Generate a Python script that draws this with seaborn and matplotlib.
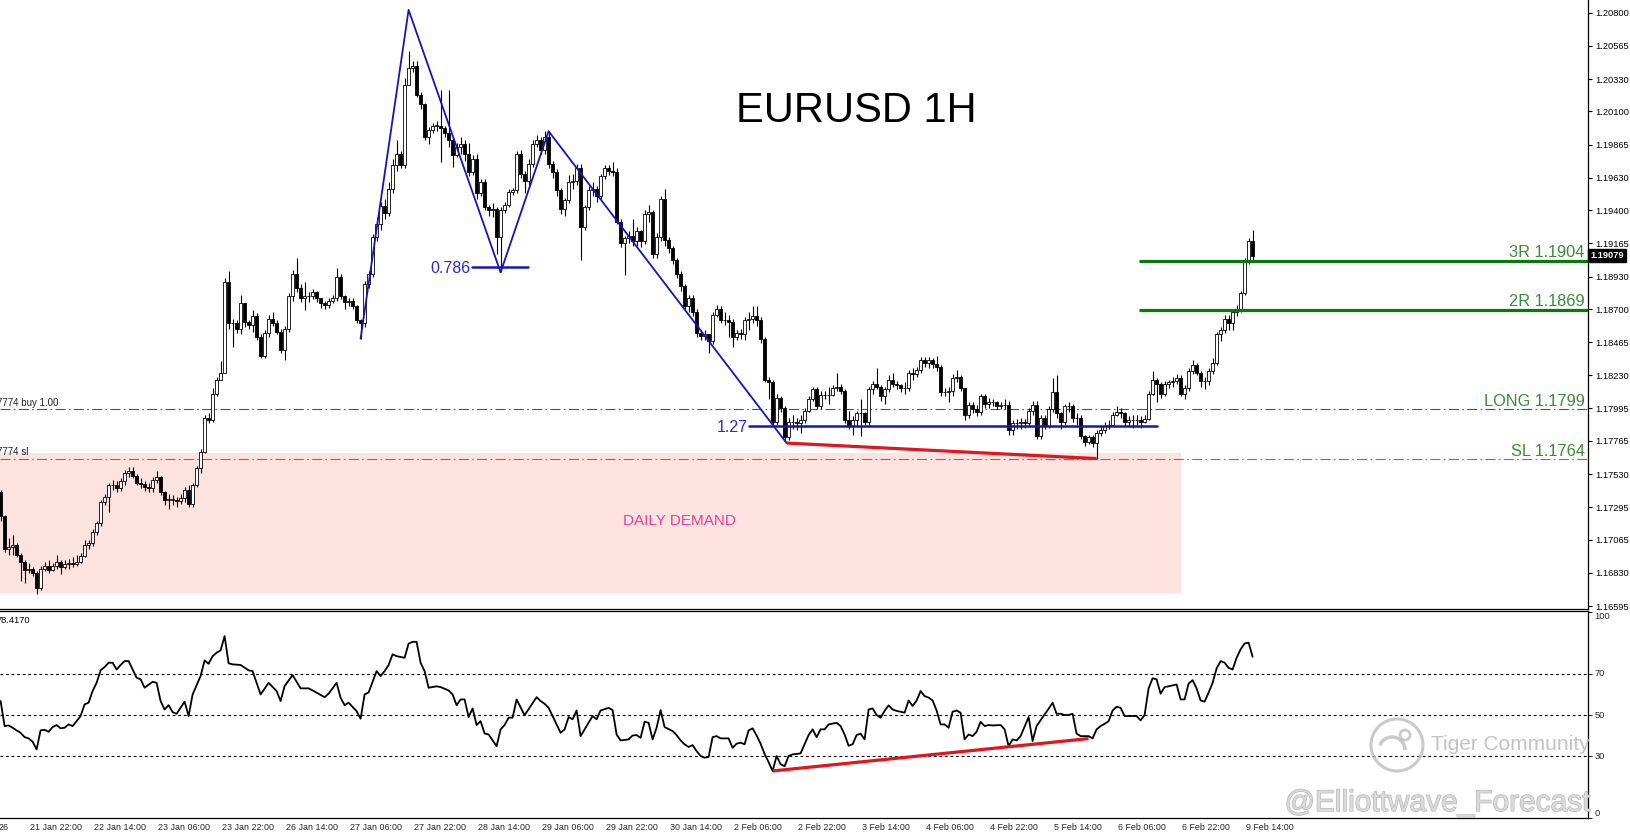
"""EURUSD 1H chart with harmonic pattern, levels and RSI"""

import numpy as np
import matplotlib
matplotlib.use("Agg")
import matplotlib.pyplot as plt
import matplotlib.patheffects as pe
import matplotlib.transforms as mtransforms
from matplotlib.patches import Rectangle, Circle, Arc
import seaborn as sns

# ---------------- data ----------------
first_open = 1.1740

closes = [
    1.1723, 1.1700, 1.1701, 1.1703, 1.1696, 1.1691, 1.1685, 1.1686, 1.1683, 1.1672,
    1.1686, 1.1688, 1.1685, 1.1688, 1.1691, 1.1687, 1.1689, 1.1690, 1.1689, 1.1691,
    1.1695, 1.1703, 1.1704, 1.1712, 1.1718, 1.1733, 1.1737, 1.1745, 1.1745, 1.1743,
    1.1748, 1.1754, 1.1755, 1.1752, 1.1747, 1.1746, 1.1744, 1.1743, 1.1749, 1.1751,
    1.1740, 1.1735, 1.1735, 1.1735, 1.1734, 1.1736, 1.1742, 1.1732, 1.1745, 1.1757,
    1.1769, 1.1793, 1.1791, 1.1810, 1.1820, 1.1825, 1.1889, 1.1860, 1.1860, 1.1856,
    1.1874, 1.1861, 1.1859, 1.1865, 1.1850, 1.1837, 1.1853, 1.1863, 1.1860, 1.1854,
    1.1841, 1.1856, 1.1879, 1.1895, 1.1885, 1.1878, 1.1879, 1.1879, 1.1882, 1.1878,
    1.1874, 1.1873, 1.1876, 1.1878, 1.1893, 1.1879, 1.1875, 1.1876, 1.1872, 1.1862,
    1.1860, 1.1888, 1.1895, 1.1921, 1.1930, 1.1943, 1.1938, 1.1955, 1.1972, 1.1980,
    1.1972, 1.2029, 1.2041, 1.2042, 1.2022, 1.2015, 1.1992, 1.1997, 1.2000, 1.2000,
    1.1998, 1.1995, 1.1990, 1.1979, 1.1985, 1.1987, 1.1980, 1.1967, 1.1976, 1.1952,
    1.1960, 1.1942, 1.1940, 1.1941, 1.1921, 1.1940, 1.1944, 1.1953, 1.1954, 1.1980,
    1.1966, 1.1961, 1.1973, 1.1987, 1.1990, 1.1983, 1.1992, 1.1973, 1.1967, 1.1954,
    1.1941, 1.1947, 1.1960, 1.1961, 1.1970, 1.1928, 1.1942, 1.1954, 1.1955, 1.1950,
    1.1964, 1.1970, 1.1968, 1.1967, 1.1932, 1.1917, 1.1920, 1.1922, 1.1918, 1.1925,
    1.1918, 1.1937, 1.1939, 1.1909, 1.1921, 1.1948, 1.1919, 1.1913, 1.1905, 1.1895,
    1.1886, 1.1872, 1.1878, 1.1868, 1.1853, 1.1851, 1.1852, 1.1847, 1.1866, 1.1870,
    1.1862, 1.1862, 1.1861, 1.1850, 1.1853, 1.1852, 1.1862, 1.1863, 1.1865, 1.1862,
    1.1849, 1.1820, 1.1818, 1.1790, 1.1807, 1.1800, 1.1779, 1.1790, 1.1790, 1.1789,
    1.1791, 1.1798, 1.1806, 1.1813, 1.1801, 1.1809, 1.1809, 1.1809, 1.1814, 1.1815,
    1.1812, 1.1791, 1.1787, 1.1791, 1.1796, 1.1796, 1.1790, 1.1813, 1.1817, 1.1815,
    1.1808, 1.1813, 1.1820, 1.1817, 1.1816, 1.1814, 1.1814, 1.1825, 1.1824, 1.1827,
    1.1834, 1.1832, 1.1834, 1.1831, 1.1829, 1.1811, 1.1811, 1.1812, 1.1821, 1.1822,
    1.1814, 1.1795, 1.1802, 1.1799, 1.1797, 1.1808, 1.1803, 1.1804, 1.1804, 1.1801,
    1.1802, 1.1802, 1.1784, 1.1789, 1.1789, 1.1790, 1.1789, 1.1798, 1.1802, 1.1780,
    1.1793, 1.1787, 1.1799, 1.1811, 1.1796, 1.1790, 1.1801, 1.1801, 1.1793, 1.1793,
    1.1780, 1.1776, 1.1779, 1.1775, 1.1782, 1.1784, 1.1787, 1.1788, 1.1795, 1.1797,
    1.1796, 1.1790, 1.1791, 1.1791, 1.1791, 1.1790, 1.1792, 1.1810, 1.1820, 1.1817,
    1.1810, 1.1817, 1.1818, 1.1819, 1.1821, 1.1810, 1.1814, 1.1826, 1.1830, 1.1825,
    1.1819, 1.1819, 1.1826, 1.1832, 1.1852, 1.1855, 1.1863, 1.1860, 1.1868, 1.1870,
    1.1881, 1.1904, 1.1918, 1.19079,
]

highs = [
    1.1742, 1.1724, 1.1708, 1.1710, 1.1704, 1.1697, 1.1692, 1.1690, 1.1687, 1.1684,
    1.1688, 1.1691, 1.1692, 1.1690, 1.1696, 1.1692, 1.1692, 1.1693, 1.1694, 1.1696,
    1.1697, 1.1706, 1.1706, 1.1714, 1.1720, 1.1735, 1.1739, 1.1747, 1.1749, 1.1748,
    1.1750, 1.1756, 1.1758, 1.1758, 1.1753, 1.1750, 1.1748, 1.1747, 1.1751, 1.1755,
    1.1752, 1.1741, 1.1739, 1.1738, 1.1737, 1.1739, 1.1744, 1.1745, 1.1747, 1.1759,
    1.1771, 1.1795, 1.1796, 1.1814, 1.1822, 1.1833, 1.1892, 1.1897, 1.1863, 1.1862,
    1.1880, 1.1872, 1.1862, 1.1869, 1.1867, 1.1852, 1.1855, 1.1866, 1.1868, 1.1862,
    1.1856, 1.1858, 1.1881, 1.1898, 1.1906, 1.1888, 1.1889, 1.1882, 1.1884, 1.1883,
    1.1878, 1.1876, 1.1878, 1.1880, 1.1899, 1.1895, 1.1880, 1.1878, 1.1878, 1.1873,
    1.1863, 1.1890, 1.1897, 1.1923, 1.1935, 1.1946, 1.1948, 1.1960, 1.1976, 1.1990,
    1.1982, 1.2034, 1.2053, 1.2046, 1.2046, 1.2024, 1.2016, 1.1999, 1.2002, 1.2003,
    1.2025, 1.2000, 1.2025, 1.1992, 1.1988, 1.1992, 1.1990, 1.1988, 1.1979, 1.1980,
    1.1962, 1.1962, 1.1944, 1.1945, 1.1942, 1.1942, 1.1946, 1.1955, 1.1956, 1.1982,
    1.1983, 1.1968, 1.1976, 1.1990, 1.1993, 1.1992, 1.1996, 1.1996, 1.1975, 1.1969,
    1.1956, 1.1949, 1.1965, 1.1966, 1.1973, 1.1973, 1.1944, 1.1957, 1.1960, 1.1957,
    1.1966, 1.1972, 1.1972, 1.1974, 1.1970, 1.1934, 1.1922, 1.1925, 1.1934, 1.1928,
    1.1926, 1.1940, 1.1944, 1.1940, 1.1924, 1.1950, 1.1955, 1.1921, 1.1915, 1.1906,
    1.1897, 1.1888, 1.1880, 1.1880, 1.1870, 1.1855, 1.1855, 1.1852, 1.1868, 1.1873,
    1.1872, 1.1868, 1.1866, 1.1863, 1.1855, 1.1856, 1.1864, 1.1868, 1.1872, 1.1872,
    1.1864, 1.1850, 1.1822, 1.1820, 1.1810, 1.1808, 1.1801, 1.1793, 1.1795, 1.1793,
    1.1795, 1.1800, 1.1808, 1.1815, 1.1815, 1.1812, 1.1812, 1.1815, 1.1816, 1.1825,
    1.1817, 1.1813, 1.1798, 1.1794, 1.1798, 1.1806, 1.1797, 1.1815, 1.1819, 1.1828,
    1.1816, 1.1815, 1.1823, 1.1825, 1.1819, 1.1817, 1.1818, 1.1827, 1.1828, 1.1829,
    1.1836, 1.1836, 1.1836, 1.1835, 1.1837, 1.1830, 1.1814, 1.1815, 1.1824, 1.1827,
    1.1823, 1.1814, 1.1804, 1.1804, 1.1802, 1.1810, 1.1810, 1.1807, 1.1806, 1.1805,
    1.1804, 1.1806, 1.1805, 1.1791, 1.1792, 1.1793, 1.1792, 1.1800, 1.1805, 1.1805,
    1.1795, 1.1795, 1.1801, 1.1821, 1.1823, 1.1797, 1.1803, 1.1804, 1.1803, 1.1796,
    1.1795, 1.1781, 1.1781, 1.1781, 1.1784, 1.1787, 1.1790, 1.1791, 1.1797, 1.1801,
    1.1800, 1.1797, 1.1794, 1.1795, 1.1795, 1.1794, 1.1795, 1.1812, 1.1826, 1.1821,
    1.1818, 1.1819, 1.1820, 1.1822, 1.1824, 1.1823, 1.1816, 1.1828, 1.1834, 1.1832,
    1.1826, 1.1822, 1.1828, 1.1835, 1.1854, 1.1857, 1.1866, 1.1866, 1.1870, 1.1873,
    1.1883, 1.1906, 1.1920, 1.1926,
]

lows = [
    1.1720, 1.1698, 1.1696, 1.1696, 1.1694, 1.1677, 1.1676, 1.1683, 1.1681, 1.1668,
    1.1671, 1.1684, 1.1683, 1.1684, 1.1686, 1.1682, 1.1686, 1.1686, 1.1687, 1.1688,
    1.1690, 1.1694, 1.1700, 1.1702, 1.1710, 1.1716, 1.1731, 1.1726, 1.1742, 1.1740,
    1.1741, 1.1745, 1.1751, 1.1750, 1.1745, 1.1743, 1.1741, 1.1740, 1.1740, 1.1747,
    1.1738, 1.1731, 1.1728, 1.1731, 1.1730, 1.1732, 1.1733, 1.1730, 1.1730, 1.1744,
    1.1754, 1.1768, 1.1789, 1.1790, 1.1808, 1.1820, 1.1849, 1.1856, 1.1843, 1.1853,
    1.1852, 1.1857, 1.1856, 1.1854, 1.1848, 1.1835, 1.1835, 1.1850, 1.1858, 1.1852,
    1.1839, 1.1834, 1.1854, 1.1876, 1.1882, 1.1875, 1.1869, 1.1875, 1.1877, 1.1875,
    1.1871, 1.1870, 1.1871, 1.1874, 1.1876, 1.1877, 1.1870, 1.1872, 1.1870, 1.1860,
    1.1849, 1.1857, 1.1885, 1.1893, 1.1918, 1.1926, 1.1934, 1.1936, 1.1952, 1.1968,
    1.1970, 1.1970, 1.2030, 1.2038, 1.2020, 1.2012, 1.1990, 1.1987, 1.1995, 1.1996,
    1.1974, 1.1992, 1.1985, 1.1971, 1.1978, 1.1980, 1.1975, 1.1964, 1.1965, 1.1948,
    1.1950, 1.1940, 1.1936, 1.1935, 1.1909, 1.1896, 1.1938, 1.1942, 1.1951, 1.1952,
    1.1963, 1.1952, 1.1958, 1.1971, 1.1985, 1.1980, 1.1980, 1.1970, 1.1963, 1.1950,
    1.1937, 1.1936, 1.1945, 1.1955, 1.1958, 1.1905, 1.1926, 1.1940, 1.1950, 1.1946,
    1.1948, 1.1962, 1.1965, 1.1964, 1.1930, 1.1914, 1.1894, 1.1917, 1.1915, 1.1915,
    1.1914, 1.1916, 1.1932, 1.1906, 1.1906, 1.1918, 1.1915, 1.1910, 1.1902, 1.1892,
    1.1883, 1.1870, 1.1868, 1.1865, 1.1850, 1.1848, 1.1848, 1.1839, 1.1845, 1.1864,
    1.1860, 1.1859, 1.1850, 1.1843, 1.1848, 1.1849, 1.1848, 1.1855, 1.1860, 1.1858,
    1.1846, 1.1818, 1.1806, 1.1788, 1.1788, 1.1797, 1.1776, 1.1777, 1.1785, 1.1784,
    1.1782, 1.1789, 1.1797, 1.1805, 1.1799, 1.1799, 1.1806, 1.1803, 1.1808, 1.1812,
    1.1810, 1.1789, 1.1785, 1.1781, 1.1787, 1.1780, 1.1788, 1.1787, 1.1810, 1.1813,
    1.1805, 1.1803, 1.1811, 1.1815, 1.1813, 1.1811, 1.1810, 1.1812, 1.1820, 1.1822,
    1.1825, 1.1829, 1.1828, 1.1828, 1.1826, 1.1808, 1.1808, 1.1804, 1.1808, 1.1818,
    1.1812, 1.1791, 1.1793, 1.1796, 1.1794, 1.1795, 1.1800, 1.1800, 1.1801, 1.1799,
    1.1799, 1.1799, 1.1781, 1.1781, 1.1785, 1.1785, 1.1786, 1.1787, 1.1795, 1.1778,
    1.1778, 1.1785, 1.1786, 1.1797, 1.1793, 1.1785, 1.1788, 1.1797, 1.1790, 1.1788,
    1.1778, 1.1773, 1.1774, 1.1772, 1.1764, 1.1780, 1.1782, 1.1785, 1.1787, 1.1794,
    1.1793, 1.1787, 1.1787, 1.1786, 1.1788, 1.1786, 1.1789, 1.1791, 1.1809, 1.1804,
    1.1807, 1.1808, 1.1814, 1.1815, 1.1817, 1.1808, 1.1806, 1.1812, 1.1824, 1.1823,
    1.1815, 1.1813, 1.1816, 1.1824, 1.1830, 1.1847, 1.1853, 1.1855, 1.1855, 1.1865,
    1.1868, 1.1880, 1.1902, 1.1903,
]

# RSI(14) as (bar, value)
rsi_points = [
    (0, 56.8), (1, 44.6), (2, 44.9), (3, 43.8), (4, 42.5), (5, 41.3), (6, 39.2), (7, 38.6), (8, 37.0), (9, 33.2),
    (10, 42.5), (11, 42.8), (12, 41.8), (13, 44.1), (14, 45.1), (15, 43.5), (16, 43.8), (17, 45.4), (18, 44.6), (19, 47.0),
    (20, 49.5), (21, 55.2), (22, 56.0), (23, 61.7), (24, 65.7), (25, 71.8), (26, 73.4), (27, 75.5), (28, 75.5), (29, 72.2),
    (30, 74.4), (31, 76.3), (32, 76.3), (34, 68.2), (35, 67.4), (36, 63.3), (38, 66.2), (39, 65.7), (40, 56.8), (41, 52.7),
    (42, 54.8), (43, 51.4), (44, 50.6), (46, 56.5), (47, 49.5), (48, 60.0), (50, 69.0), (51, 76.6), (52, 75.0), (53, 78.7),
    (54, 80.4), (55, 81.5), (56, 88.5), (57, 75.2), (58, 74.7), (60, 74.4), (62, 71.8), (63, 71.4), (65, 60.0), (67, 65.7),
    (69, 61.7), (70, 56.8), (71, 64.1), (73, 69.5), (75, 63.0), (77, 63.0), (78, 62.0), (81, 58.7), (82, 60.4), (84, 65.7),
    (85, 58.4), (86, 54.8), (87, 56.0), (89, 51.9), (90, 48.2), (91, 60.0), (92, 61.0), (94, 71.4), (95, 69.0), (96, 71.4),
    (97, 74.4), (98, 79.6), (99, 78.7), (101, 77.9), (102, 84.8), (103, 85.7), (104, 85.7), (105, 75.5), (106, 71.4), (107, 63.3),
    (109, 64.0), (110, 63.6), (112, 62.0), (113, 60.0), (114, 54.8), (115, 57.6), (116, 57.6), (117, 49.0), (118, 53.2), (119, 45.1),
    (120, 47.0), (121, 41.0), (122, 40.5), (124, 34.8), (125, 43.0), (126, 45.1), (127, 48.7), (128, 48.7), (129, 57.6), (131, 49.9),
    (134, 58.7), (135, 56.8), (136, 55.5), (137, 53.5), (138, 49.5), (140, 41.3), (141, 43.0), (142, 49.0), (143, 47.9), (144, 52.2),
    (145, 39.7), (147, 46.2), (148, 49.5), (149, 47.9), (150, 52.2), (152, 53.5), (153, 52.4), (154, 40.5), (155, 37.6), (157, 38.1),
    (158, 40.0), (159, 40.2), (160, 38.9), (161, 46.7), (162, 46.2), (163, 38.1), (164, 43.8), (165, 52.4), (166, 44.1), (168, 42.2),
    (169, 40.2), (170, 37.6), (171, 35.7), (172, 34.4), (173, 35.3), (174, 32.4), (175, 30.0), (176, 29.2), (177, 29.5), (178, 39.2),
    (179, 39.7), (180, 38.6), (182, 38.6), (183, 34.0), (184, 36.0), (185, 36.5), (186, 35.7), (187, 42.5), (188, 43.5), (189, 40.0),
    (190, 36.0), (191, 31.0), (192, 27.0), (193, 22.7), (194, 30.0), (195, 26.0), (196, 25.0), (197, 30.0), (198, 30.8), (199, 31.0),
    (200, 31.3), (201, 35.7), (202, 40.2), (203, 43.0), (204, 39.2), (205, 43.0), (206, 43.0), (207, 45.4), (209, 46.2), (210, 44.6),
    (211, 40.5), (212, 35.0), (213, 35.7), (214, 40.2), (215, 40.9), (216, 38.1), (217, 52.7), (218, 53.2), (219, 50.0), (220, 48.7),
    (221, 52.0), (222, 54.7), (223, 52.7), (224, 52.0), (225, 51.6), (226, 51.1), (227, 57.1), (228, 54.4), (229, 57.0), (230, 61.7),
    (231, 59.2), (232, 58.5), (233, 57.1), (234, 52.2), (235, 45.4), (236, 45.4), (237, 43.8), (238, 51.6), (239, 52.2), (240, 51.1),
    (241, 38.1), (242, 40.5), (243, 39.7), (244, 41.8), (245, 46.7), (246, 44.6), (247, 45.1), (248, 44.9), (250, 45.1), (251, 43.0),
    (252, 34.8), (253, 38.1), (254, 37.6), (255, 39.7), (257, 49.0), (258, 37.3), (259, 44.6), (261, 50.3), (262, 53.0), (263, 56.0),
    (264, 50.6), (265, 50.6), (266, 50.0), (267, 50.0), (268, 50.6), (269, 40.9), (270, 39.7), (271, 39.7), (272, 39.7), (273, 38.6),
    (274, 43.0), (275, 44.6), (276, 45.7), (277, 47.0), (278, 52.2), (279, 54.0), (280, 53.5), (281, 49.5), (283, 49.5), (284, 49.5),
    (285, 47.4), (286, 50.0), (287, 63.0), (288, 67.9), (289, 67.4), (290, 60.4), (291, 63.6), (292, 64.0), (294, 64.9), (295, 57.6),
    (296, 57.6), (297, 65.3), (298, 67.0), (299, 63.0), (300, 57.1), (301, 56.5), (302, 60.9), (303, 65.7), (304, 72.7), (305, 76.3),
    (306, 75.5), (307, 73.0), (308, 72.2), (309, 77.9), (310, 82.0), (311, 84.9), (312, 85.3), (313, 78.4),
]
rsi_label = "78.4170"
rsi_levels = [70, 50, 30]
rsi_axis_labels = [100, 70, 50, 30, 0]

price_ticks = [1.16595, 1.16830, 1.17065, 1.17295, 1.17530, 1.17765, 1.17995, 1.18230,
               1.18465, 1.18700, 1.18930, 1.19165, 1.19400, 1.19630, 1.19865, 1.20100,
               1.20330, 1.20565, 1.20800]
last_price = 1.19079

time_tick_bars = [6, 22, 38, 54, 70, 86, 102, 118, 134, 150, 166, 182, 198, 214,
                  230, 246, 262, 278, 294, 310]
time_labels = ["21 Jan 22:00", "22 Jan 14:00", "23 Jan 06:00", "23 Jan 22:00",
               "26 Jan 14:00", "27 Jan 06:00", "27 Jan 22:00", "28 Jan 14:00",
               "29 Jan 06:00", "29 Jan 22:00", "30 Jan 14:00", "2 Feb 06:00",
               "2 Feb 22:00", "3 Feb 14:00", "4 Feb 06:00", "4 Feb 22:00",
               "5 Feb 14:00", "6 Feb 06:00", "6 Feb 22:00", "9 Feb 14:00"]

# harmonic pattern X-A-B-C-D
pattern_bars = [90, 102, 125, 137, 196.5]
pattern_prices = [1.1849, 1.2082, 1.1896, 1.1996, 1.1775]
fib_786 = [117.8, 131.9, 1.1900]
fib_127 = [187, 289, 1.1787]

# divergence lines
price_div_bars = [196.5, 274]
price_div_prices = [1.1775, 1.1764]
rsi_div_bars = [193, 272]
rsi_div_vals = [22.7, 38.5]

# trade levels
target_3r = 1.1904
target_2r = 1.1869
target_start_bar = 284.7
long_price = 1.1799
sl_price = 1.1764

demand_zone = [295, 1.1669, 1.1768]   # right end bar, low, high

# ---------------- figure ----------------
sns.set_theme(style="white")
plt.rcParams["font.family"] = ["Liberation Sans", "DejaVu Sans"]

W, H = 1631, 836
fig = plt.figure(figsize=(W / 100, H / 100), dpi=100)
fig.patch.set_facecolor("white")

xlim = (-0.15, 396.85)
ax = fig.add_axes([0, 227 / H, 1588 / W, 609 / H])
ax2 = fig.add_axes([0, 18 / H, 1588 / W, 207 / H])
ax.set_xlim(*xlim)
ax2.set_xlim(*xlim)
ax.set_ylim(1.16574, 1.20890)
ax2.set_ylim(-0.24, 100.73)

for a in (ax, ax2):
    a.set_facecolor("white")
    for s in a.spines.values():
        s.set_color("black")
        s.set_linewidth(0.9)
    a.spines["left"].set_visible(False)
ax.spines["top"].set_visible(False)

# candles
closes_a = np.array(closes)
opens_a = np.r_[first_open, closes_a[:-1]]
highs_a = np.maximum(np.array(highs), np.maximum(opens_a, closes_a))
lows_a = np.minimum(np.array(lows), np.minimum(opens_a, closes_a))
xb = np.arange(len(closes_a))
up = closes_a >= opens_a

ax.vlines(xb, lows_a, highs_a, color="black", lw=0.8, zorder=3)
body_h = np.maximum(np.abs(closes_a - opens_a), 0.00001)
ax.bar(xb, body_h, bottom=np.minimum(opens_a, closes_a), width=0.66,
       color=np.where(up, "white", "black"), edgecolor="black",
       linewidth=0.6, zorder=4)

# demand zone
ax.add_patch(Rectangle((xlim[0] - 1, demand_zone[1]), demand_zone[0] - xlim[0] + 1,
                       demand_zone[2] - demand_zone[1], facecolor="#fde3e0",
                       edgecolor="none", zorder=1))
ax.text(169.6, 1.17169, "DAILY DEMAND", color="#e6409a", fontsize=11,
        ha="center", va="baseline", zorder=6)

# trade lines
dashdot = (0, (9, 3, 1.5, 3))
ax.axhline(long_price, color="#2b6f2b", lw=0.8, ls=dashdot, zorder=2)
ax.axhline(sl_price, color="#d9502e", lw=0.8, ls=dashdot, zorder=2)
ax.plot([target_start_bar, xlim[1]], [target_3r, target_3r], color="#0b780b", lw=2.3, zorder=5,
        solid_capstyle="butt")
ax.plot([target_start_bar, xlim[1]], [target_2r, target_2r], color="#0b780b", lw=2.3, zorder=5,
        solid_capstyle="butt")

lab_kw = dict(color="#3a8c3a", fontsize=11.8, ha="right", va="baseline", zorder=7)
ax.text(396.0, target_3r + 0.0003, "3R 1.1904", **lab_kw)
ax.text(396.0, target_2r + 0.0003, "2R 1.1869", **lab_kw)
ax.text(396.0, long_price + 0.0002, "LONG 1.1799", **lab_kw)
ax.text(396.0, sl_price + 0.0002, "SL 1.1764", **lab_kw)

small = dict(fontsize=7, color="#222222", ha="left", va="baseline", clip_on=True)
ax.text(-0.8, long_price + 0.00022, "7774 buy 1.00", **small)
ax.text(-0.8, sl_price + 0.00022, "7774 sl", **small)

# pattern
blue = "#1515b8"
ax.plot(pattern_bars, pattern_prices, color=blue, lw=1.3, zorder=6)
ax.plot(fib_786[:2], [fib_786[2]] * 2, color=blue, lw=1.8, zorder=6)
ax.plot(fib_127[:2], [fib_127[2]] * 2, color=blue, lw=1.8, zorder=6)
ax.text(fib_786[0] - 0.2, fib_786[2], "0.786", color="#2a2ad0", fontsize=11.5,
        ha="right", va="center_baseline", zorder=7)
ax.text(fib_127[0] - 0.2, fib_127[2], "1.27", color="#2a2ad0", fontsize=11.5,
        ha="right", va="center_baseline", zorder=7)

ax.plot(price_div_bars, price_div_prices, color="#e3141c", lw=2.3, zorder=6,
        solid_capstyle="butt")

# title
ax.text(213.9, 1.20025, "EURUSD 1H", fontsize=30, ha="center", va="baseline",
        color="black", zorder=7)

# price axis
ax.set_xticks([])
ax.yaxis.tick_right()
ax.set_yticks(price_ticks)
ax.set_yticklabels([f"{p:.5f}" for p in price_ticks])
ax.tick_params(axis="y", direction="out", length=3, width=0.8, pad=2,
               labelsize=6.7, colors="black")
tr = mtransforms.blended_transform_factory(ax.transAxes, ax.transData)
ax.text(1.0015, last_price, f"{last_price:.5f}", transform=tr, ha="left",
        va="center", fontsize=6.7, color="white", fontweight="bold", zorder=10,
        bbox=dict(boxstyle="square,pad=0.22", fc="black", ec="black"), clip_on=False)

# RSI panel
rsi_x = [p[0] for p in rsi_points]
rsi_y = [p[1] for p in rsi_points]
sns.lineplot(x=rsi_x, y=rsi_y, ax=ax2, color="black", linewidth=1.3,
             estimator=None, sort=False, legend=False)
for lvl in rsi_levels:
    ax2.axhline(lvl, color="black", lw=0.8, ls=(0, (2.5, 2.5)), zorder=1)
ax2.plot(rsi_div_bars, rsi_div_vals, color="#e3141c", lw=2.3, zorder=5,
         solid_capstyle="butt")
ax2.text(-0.9, 95.9, rsi_label, fontsize=6.7, ha="left", va="center",
         color="black", clip_on=True)

ax2.set_yticks(rsi_axis_labels)
ax2.set_yticklabels([])
ax2.yaxis.tick_right()
ax2.tick_params(axis="y", direction="out", length=3, width=0.8)
tr2 = mtransforms.blended_transform_factory(ax2.transAxes, ax2.transData)
for v in rsi_axis_labels:
    va = "top" if v == 100 else ("bottom" if v == 0 else "center")
    ax2.text(1.004, v, str(v), transform=tr2, ha="left", va=va, fontsize=6.7,
             clip_on=False)

ax2.set_xticks(time_tick_bars)
ax2.set_xticklabels([])
ax2.tick_params(axis="x", direction="out", length=3, width=0.8)
trx = mtransforms.blended_transform_factory(ax2.transData, ax2.transAxes)
for b, lab in zip(time_tick_bars, time_labels):
    ax2.text(b + 1.3, -0.022, lab, transform=trx, ha="left", va="top",
             fontsize=6.4, clip_on=False)
ax2.text(1.9, -0.022, "26", transform=trx, ha="right", va="top", fontsize=6.4,
         clip_on=False)
ax2.set_xlabel("")
ax2.set_ylabel("")

# watermarks (pixel overlay)
ov = fig.add_axes([0, 0, 1, 1])
ov.set_xlim(0, W)
ov.set_ylim(H, 0)
ov.axis("off")
ov.patch.set_alpha(0)
ov.add_patch(Circle((1397, 745), 26, fill=False, ec="#bdbdbd", lw=2.2, alpha=0.8))
ov.add_patch(Arc((1392, 750), 26, 26, theta1=200, theta2=360, ec="#bdbdbd",
                 lw=2.5, alpha=0.8))
ov.add_patch(Circle((1405, 735), 5, fill=False, ec="#bdbdbd", lw=2, alpha=0.8))
ov.text(1431, 744, "Tiger Community", fontsize=15, color="#b8b8b8",
        ha="left", va="center", alpha=0.85)
ov.text(1591, 811, "@Elliottwave_Forecast", fontsize=21.5, color="#dadada",
        ha="right", va="baseline",
        path_effects=[pe.withStroke(linewidth=0.9, foreground="#b4b4b4")])

fig.savefig("out.png", dpi=100, facecolor="white")
